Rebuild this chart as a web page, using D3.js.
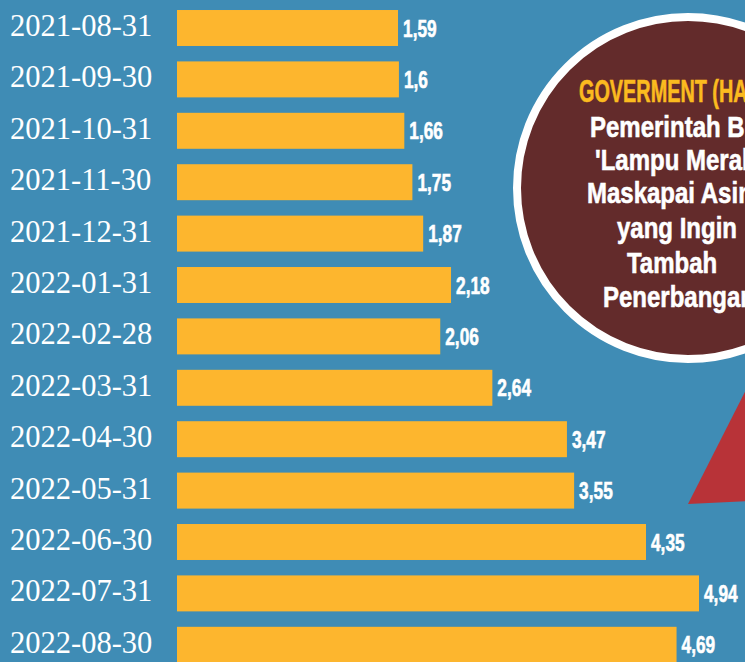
<!DOCTYPE html>
<html>
<head>
<meta charset="utf-8">
<script src="https://cdn.jsdelivr.net/npm/d3@7"></script>
<style>
  html, body { margin: 0; padding: 0; background: #3f8cb5; overflow: hidden; }
  svg { display: block; }
</style>
</head>
<body>
<svg id="chart" width="745" height="662"></svg>
<script>
// ---- data ----
const dates = ["2021-08-31","2021-09-30","2021-10-31","2021-11-30","2021-12-31","2022-01-31","2022-02-28","2022-03-31","2022-04-30","2022-05-31","2022-06-30","2022-07-31","2022-08-30"];
const values = [1.59, 1.6, 1.66, 1.75, 1.87, 2.18, 2.06, 2.64, 3.47, 3.55, 4.35, 4.94, 4.69];
const labels = ["1,59","1,6","1,66","1,75","1,87","2,18","2,06","2,64","3,47","3,55","4,35","4,94","4,69"];
const calloutTitle = "GOVERMENT (HAL)";
const calloutLines = ["Pemerintah Beri", "'Lampu Merah'", "Maskapai Asing", "yang Ingin", "Tambah", "Penerbangan"];

const W = 745, H = 662;
const svg = d3.select("#chart");

svg.append("rect").attr("width", W).attr("height", H).attr("fill", "#3f8cb5");

const y = d3.scaleBand().domain(dates).range([2.3, 670.5]).paddingInner(0.3).paddingOuter(0.15);
const x0 = -0.87;
const x = d3.scaleLinear().domain([x0, 5]).range([177, 704.4]);

const rows = dates.map((d, i) => ({date: d, value: values[i], label: labels[i]}));

const sans = "'Liberation Sans', Arial, sans-serif";

// bars
svg.append("g").selectAll("rect").data(rows).join("rect")
  .attr("x", x(x0))
  .attr("y", d => y(d.date))
  .attr("width", d => x(d.value) - x(x0))
  .attr("height", y.bandwidth())
  .attr("fill", "#fdb62e");

// category labels
svg.append("g").selectAll("text").data(rows).join("text")
  .attr("x", 10)
  .attr("y", d => y(d.date) + y.bandwidth() / 2 + 8)
  .attr("fill", "#ffffff")
  .attr("font-family", "'Liberation Serif', 'DejaVu Serif', serif")
  .attr("font-size", 30.5)
  .text(d => d.date);

// value labels (condensed by horizontal scaling)
svg.append("g").selectAll("text").data(rows).join("text")
  .attr("transform", d => `translate(${x(d.value) + 5},${y(d.date) + y.bandwidth() / 2 + 8.5}) scale(0.72,1)`)
  .attr("fill", "#ffffff")
  .attr("font-family", sans)
  .attr("font-weight", "bold")
  .attr("font-size", 24)
  .attr("stroke", "#ffffff").attr("stroke-width", 0.6)
  .text(d => d.label);

// callout pointer (red triangle)
svg.append("path")
  .attr("d", d3.line()([[688, 504], [752, 378], [752, 501]]) + "Z")
  .attr("fill", "#b83338");

// callout circle
svg.append("circle")
  .attr("cx", 688).attr("cy", 188).attr("r", 171)
  .attr("fill", "#632b2b")
  .attr("stroke", "#ffffff").attr("stroke-width", 8);

svg.append("text")
  .attr("transform", "translate(579,102) scale(0.64,1)")
  .attr("fill", "#fbbb1f")
  .attr("font-family", sans).attr("font-weight", "bold").attr("font-size", 31)
  .attr("stroke", "#fbbb1f").attr("stroke-width", 0.6)
  .text(calloutTitle);

const lineX = [590, 595, 587, 617, 627, 603];
const lineY = [137, 170, 203, 238, 273, 307];
svg.append("g").selectAll("text").data(calloutLines).join("text")
  .attr("transform", (d, i) => `translate(${lineX[i]},${lineY[i]}) scale(0.8,1)`)
  .attr("fill", "#ffffff")
  .attr("font-family", sans).attr("font-weight", "bold").attr("font-size", 30)
  .attr("stroke", "#ffffff").attr("stroke-width", 0.6)
  .text(d => d);
</script>
</body>
</html>
